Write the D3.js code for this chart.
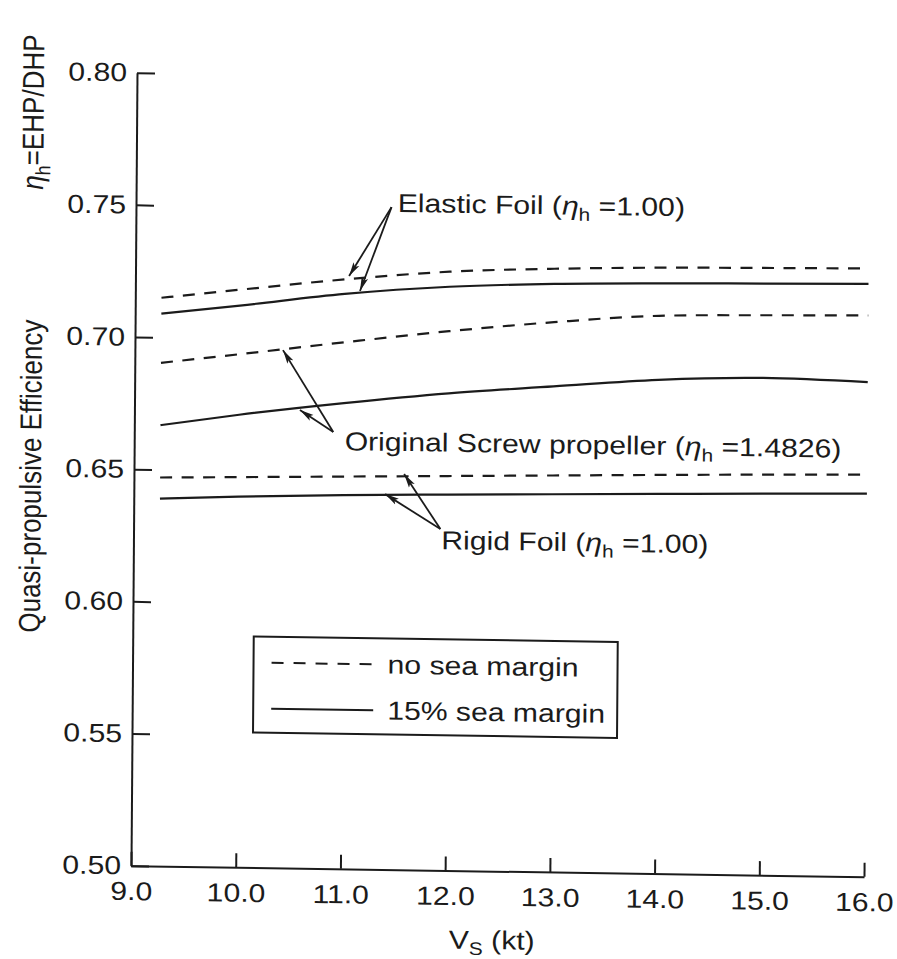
<!DOCTYPE html>
<html>
<head>
<meta charset="utf-8">
<script src="https://cdn.jsdelivr.net/npm/d3@7"></script>
<style>
  body { margin: 0; background: #ffffff; }
  svg { display: block; }
  text { font-family: "Liberation Sans", Arial, Helvetica, sans-serif; fill: #1b1b1b; }
</style>
</head>
<body>
<svg id="chart" width="897" height="959"></svg>
<script>
// Ship speed (kt) at which each efficiency curve is sampled
const speeds = [9.25, 10, 11, 12, 13, 14, 15, 16];

// Quasi-propulsive efficiency, no sea margin (dashed) and 15% sea margin (solid)
const elasticNoMargin   = [0.7150, 0.7185, 0.7230, 0.7265, 0.7282, 0.7292, 0.7297, 0.7301];
const elasticMargin     = [0.7090, 0.7125, 0.7175, 0.7208, 0.7225, 0.7233, 0.7238, 0.7243];
const screwNoMargin     = [0.6904, 0.6941, 0.6992, 0.7040, 0.7080, 0.7110, 0.7118, 0.7123];
const screwMargin       = [0.6668, 0.6712, 0.6762, 0.6805, 0.6837, 0.6868, 0.6881, 0.6871];
const rigidNoMargin     = [0.6470, 0.6476, 0.6484, 0.6492, 0.6500, 0.6508, 0.6515, 0.6521];
const rigidMargin       = [0.6390, 0.6402, 0.6414, 0.6422, 0.6429, 0.6436, 0.6443, 0.6449];

// Axis ticks
const xTicks = [9, 10, 11, 12, 13, 14, 15, 16];
const yTicks = [0.50, 0.55, 0.60, 0.65, 0.70, 0.75, 0.80];

// Legend entries
const legendLabels = ["no sea margin", "15% sea margin"];

const series = [
  { values: elasticNoMargin, dashed: true },
  { values: elasticMargin,   dashed: false },
  { values: screwNoMargin,   dashed: true },
  { values: screwMargin,     dashed: false },
  { values: rigidNoMargin,   dashed: true },
  { values: rigidMargin,     dashed: false }
];

// Callouts: label text, hydrodynamic efficiency, text anchor, arrow tail and arrow tips (data units)
const callouts = [
  { name: "Elastic Foil", eta: "1.00", at: [11.50, 0.7488], tail: [11.44, 0.7506],
    tips: [[11.04, 0.7243], [11.145, 0.7187]] },
  { name: "Original Screw propeller", eta: "1.4826", at: [11.01, 0.6584], tail: [10.90, 0.6652],
    tips: [[10.414, 0.6959], [10.58, 0.6733]] },
  { name: "Rigid Foil", eta: "1.00", at: [11.94, 0.6215], tail: [11.93, 0.6291],
    tips: [[11.58, 0.6497], [11.40, 0.6420]] }
];

const W = 733, H = 793;
const FS = 26;          // type size
const SX = 1.16;        // horizontal widening of the printed type
const SUB = 18;         // subscript size

const x = d3.scaleLinear().domain([9, 16]).range([0, W]);
const y = d3.scaleLinear().domain([0.50, 0.80]).range([H, 0]);

const svg = d3.select("#chart");

const defs = svg.append("defs");
defs.append("marker")
  .attr("id", "head")
  .attr("viewBox", "0 0 14 8")
  .attr("refX", 14).attr("refY", 4)
  .attr("markerWidth", 14).attr("markerHeight", 8)
  .attr("markerUnits", "userSpaceOnUse")
  .attr("orient", "auto")
  .append("path")
  .attr("d", "M0,0.6 L14,4 L0,7.4 L3,4 Z")
  .attr("fill", "#1b1b1b");

// Plot frame, slightly sheared like the printed page
const g = svg.append("g").attr("transform", "matrix(1,0.015,-0.00757,1,137,72.7)");

// Horizontal text placed at (px, py), widened by SX
function label(parent, px, py) {
  return parent.append("text")
    .attr("transform", `translate(${px},${py}) scale(${SX},1)`)
    .style("font-size", FS + "px");
}

// X axis
const xAxis = g.append("g")
  .attr("transform", `translate(0,${H})`)
  .call(d3.axisBottom(x).tickValues(xTicks).tickFormat(d3.format(".1f"))
    .tickSize(-14).tickSizeOuter(0).tickPadding(16));

// Y axis
const yAxis = g.append("g")
  .call(d3.axisLeft(y).tickValues(yTicks).tickFormat(d3.format(".2f"))
    .tickSize(-18).tickSizeOuter(0).tickPadding(10));

[xAxis, yAxis].forEach(a => {
  a.attr("font-family", null).attr("font-size", null);
  a.select(".domain").attr("stroke", "#1b1b1b").attr("stroke-width", 2);
  a.selectAll(".tick line").attr("stroke", "#1b1b1b").attr("stroke-width", 2);
  a.selectAll(".tick text").style("font-size", FS + "px").attr("fill", "#1b1b1b");
});
xAxis.selectAll(".tick text").attr("transform", `scale(${SX},1)`);
yAxis.selectAll(".tick text")
  .attr("x", -10 / SX)
  .attr("transform", `scale(${SX},1)`);

// Curves
const line = d3.line()
  .x((d, i) => x(speeds[i]))
  .y(d => y(d))
  .curve(d3.curveMonotoneX);

g.selectAll("path.curve")
  .data(series)
  .join("path")
  .attr("class", "curve")
  .attr("d", d => line(d.values))
  .attr("fill", "none")
  .attr("stroke", "#1b1b1b")
  .attr("stroke-width", 2.2)
  .attr("stroke-dasharray", d => d.dashed ? "12,9.5" : null);

// Callouts with arrows
callouts.forEach(c => {
  c.tips.forEach(t => {
    g.append("line")
      .attr("x1", x(c.tail[0])).attr("y1", y(c.tail[1]))
      .attr("x2", x(t[0])).attr("y2", y(t[1]))
      .attr("stroke", "#1b1b1b").attr("stroke-width", 1.8)
      .attr("marker-end", "url(#head)");
  });
  const txt = label(g, x(c.at[0]), y(c.at[1]));
  txt.append("tspan").text(c.name + " (");
  txt.append("tspan").text("η").style("font-style", "italic");
  txt.append("tspan").text("h").style("font-size", SUB + "px").attr("dy", 6);
  txt.append("tspan").text(" =" + c.eta + ")").attr("dy", -6);
});

// Legend
const leg = g.append("g").attr("transform", "translate(121,562)");
leg.append("rect")
  .attr("width", 364).attr("height", 96)
  .attr("fill", "#ffffff").attr("stroke", "#1b1b1b").attr("stroke-width", 2);
legendLabels.forEach((lab, i) => {
  const yy = 26 + i * 46;
  leg.append("line")
    .attr("x1", 18).attr("x2", 120).attr("y1", yy).attr("y2", yy)
    .attr("stroke", "#1b1b1b").attr("stroke-width", 2)
    .attr("stroke-dasharray", i === 0 ? "12,10" : null);
  label(leg, 134, yy + 9).text(lab);
});

// X axis title
const xt = label(g, x(12.45), H + 78).attr("text-anchor", "middle");
xt.append("tspan").text("V");
xt.append("tspan").text("S").style("font-size", SUB + "px").attr("dy", 6);
xt.append("tspan").text(" (kt)").attr("dy", -6);

// Y axis titles (rotated, widened across the line)
g.append("text")
  .attr("transform", `translate(-93,405) scale(${SX},1) rotate(-90)`)
  .attr("text-anchor", "middle")
  .style("font-size", FS + "px")
  .text("Quasi-propulsive Efficiency");

const yt = g.append("text")
  .attr("transform", `translate(-93,41) scale(${SX},1) rotate(-90)`)
  .attr("text-anchor", "middle")
  .style("font-size", FS + "px");
yt.append("tspan").text("η").style("font-style", "italic");
yt.append("tspan").text("h").style("font-size", SUB + "px").attr("dy", 6);
yt.append("tspan").text("=EHP/DHP").attr("dy", -6);
</script>
</body>
</html>
